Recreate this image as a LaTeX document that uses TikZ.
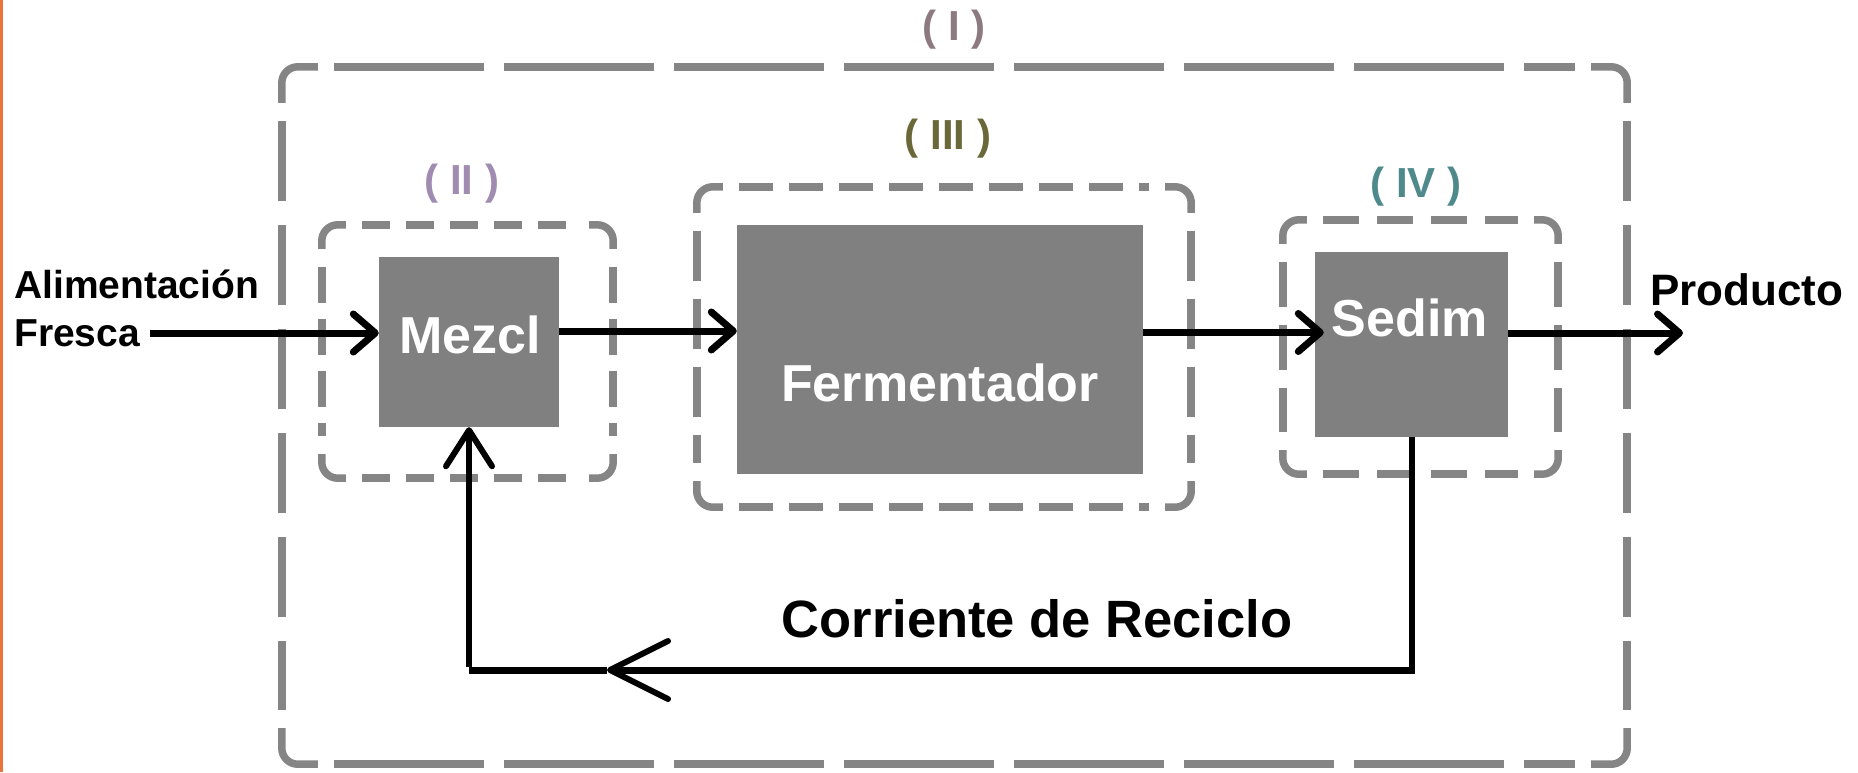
\documentclass[tikz,border=0pt]{standalone}
\usepackage{fontspec}
\setmainfont{Liberation Sans}
\usetikzlibrary{arrows.meta}

\definecolor{boxgrey}{HTML}{808080}
\definecolor{dashgrey}{HTML}{858585}
\definecolor{edgeorange}{HTML}{E8743C}
\definecolor{tagI}{HTML}{8C7A80}
\definecolor{tagII}{HTML}{A08CB0}
\definecolor{tagIII}{HTML}{6A6838}
\definecolor{tagIV}{HTML}{4E8A8C}

\tikzset{
  unitbox/.style={fill=boxgrey, draw=none, inner sep=0pt},
  unittext/.style={text=white, font=\bfseries\fontsize{52}{60}\selectfont, inner sep=0pt},
  framebox/.style={draw=none, inner sep=0pt},
  frameline/.style={draw=dashgrey, line width=7.5pt},
  tagtext/.style={font=\bfseries\fontsize{42}{48}\selectfont, inner sep=0pt},
  streamtext/.style={font=\bfseries\fontsize{39}{46}\selectfont, inner sep=0pt, anchor=west},
  barb/.style={-{Straight Barb[length=22pt,width=38pt,round]}},
  flow/.style={line width=7pt, barb},
  recline/.style={line width=6pt},
}

% dashed control-volume outline around a frame node:
% #1 node, #2 horizontal dash pattern, #3 vertical dash pattern, #4 corner leg
\newcommand{\cvframe}[4]{%
  \draw[frameline, rounded corners=16pt] ([yshift=-#4pt]#1.north west) -- (#1.north west) -- ([xshift=#4pt]#1.north west);
  \draw[frameline, rounded corners=16pt] ([yshift=-#4pt]#1.north east) -- (#1.north east) -- ([xshift=-#4pt]#1.north east);
  \draw[frameline, rounded corners=16pt] ([yshift=#4pt]#1.south west) -- (#1.south west) -- ([xshift=#4pt]#1.south west);
  \draw[frameline, rounded corners=16pt] ([yshift=#4pt]#1.south east) -- (#1.south east) -- ([xshift=-#4pt]#1.south east);
  \draw[frameline, dash pattern=#2] ([xshift=#4pt+16pt]#1.north west) -- ([xshift=-#4pt-16pt]#1.north east);
  \draw[frameline, dash pattern=#2] ([xshift=#4pt+16pt]#1.south west) -- ([xshift=-#4pt-16pt]#1.south east);
  \draw[frameline, dash pattern=#3] ([yshift=-#4pt-18pt]#1.north west) -- ([yshift=#4pt+18pt]#1.south west);
  \draw[frameline, dash pattern=#3] ([yshift=-#4pt-18pt]#1.north east) -- ([yshift=#4pt+18pt]#1.south east);
}

\begin{document}
\begin{tikzpicture}[x=1pt,y=-1pt]
\useasboundingbox (0,0) rectangle (1858,772);
\fill[white] (0,0) rectangle (1858,772);
\fill[edgeorange] (0,0) rectangle (2.5,772);

% control-volume frames
\node[framebox, minimum width=1345pt, minimum height=697pt] (frameI) at (954.5,415.5) {};
\node[framebox, minimum width=291pt, minimum height=253pt] (frameII) at (467.5,351.5) {};
\node[framebox, minimum width=494pt, minimum height=320pt] (frameIII) at (944,347) {};
\node[framebox, minimum width=275pt, minimum height=254pt] (frameIV) at (1420.5,347) {};

\cvframe{frameI}{on 150pt off 20pt}{on 80pt off 24pt}{36}
\cvframe{frameII}{on 28pt off 16pt}{on 36pt off 16pt}{24}
\cvframe{frameIII}{on 34pt off 16pt}{on 50pt off 18pt}{26}
\cvframe{frameIV}{on 36pt off 18pt}{on 45pt off 18pt}{24}

\node[tagtext, text=tagI] (tagI) at (954,30) {( I )};
\node[tagtext, text=tagII] (tagII) at (462,184) {( II )};
\node[tagtext, text=tagIII] (tagIII) at (948,139) {( III )};
\node[tagtext, text=tagIV] (tagIV) at (1416,187) {( IV )};

% process units
\node[unitbox, minimum width=180pt, minimum height=170pt] (mezcl) at (469,342) {};
\node[unitbox, minimum width=406pt, minimum height=249pt] (ferm) at (940,349.5) {};
\node[unitbox, minimum width=193pt, minimum height=185pt] (sedim) at (1411.5,344.5) {};

\node[unittext] (mezcltext) at (470,335) {Mezcl};
\node[unittext] (fermtext) at (940,383) {Fermentador};
\node[unittext] (sedimtext) at (1410,318) {Sedim};

% stream labels
\node[streamtext] (alim) at (14,284) {Alimentación};
\node[streamtext] (fresca) at (14,333) {Fresca};
\node[streamtext, font=\bfseries\fontsize{44}{50}\selectfont] (prod) at (1650,290) {Producto};
\node[font=\bfseries\fontsize{52.5}{60}\selectfont, inner sep=0pt] (reciclo) at (1037,619) {Corriente de Reciclo};

% main streams
\draw[flow] ([xshift=10pt]fresca.east) -- (fresca.east -| mezcl.west);
\draw[flow] ([yshift=11pt]mezcl.east) -- ([yshift=11pt]mezcl.east -| ferm.west);
\coordinate (sedimin) at ([xshift=9pt,yshift=12pt]sedim.west);
\draw[flow] (ferm.east |- sedimin) -- (sedimin);
\coordinate (prodend) at (1683,333);
\draw[flow] (sedim.east |- prodend) -- (prodend);

% recycle stream
\coordinate (recR) at (sedim.south |- 0,670);
\coordinate (recL) at (mezcl.south |- 0,670);
\coordinate (rectip) at (607,670);
\draw[recline] (sedim.south) -- ([yshift=-3.5pt]recR);
\draw[line width=7pt, -{Straight Barb[length=58pt,width=58pt,line width=6pt,round]}] (recR) -- (rectip);
\draw[line width=7pt] (rectip) -- (recL);
\draw[recline, -{Straight Barb[length=36pt,width=46pt,line width=6pt,round]}] ([yshift=3.5pt]recL) -- (mezcl.south);
\end{tikzpicture}
\end{document}
